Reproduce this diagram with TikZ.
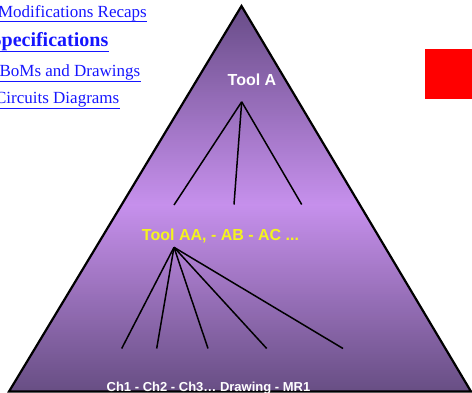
\documentclass[tikz,border=0pt]{standalone}
\usepackage{fontspec}
\setmainfont{Liberation Serif}
\newfontfamily\labelfont{Liberation Sans}
\usetikzlibrary{calc}

\definecolor{linkblue}{RGB}{22,22,255}
\definecolor{pyrtop}{HTML}{684C88}
\definecolor{pyrmid}{HTML}{C690EC}
\definecolor{pyrbot}{HTML}{664D82}
\definecolor{tagyellow}{HTML}{F4F41E}

\begin{document}
\begin{tikzpicture}[x=1pt, y=-1pt,
  menu/.style={text=linkblue, inner sep=0pt, anchor=base east,
    font=\fontsize{17}{20}\selectfont},
  menubold/.style={menu, font=\bfseries\fontsize{20}{24}\selectfont},
  uline/.style={draw=linkblue, line width=1pt},
  tag/.style={inner sep=0pt, anchor=base,
    font=\labelfont\bfseries\fontsize{16}{19}\selectfont},
  branch/.style={draw=black, line width=1.5pt},
  outline/.style={draw=black, line width=2.2pt, line join=miter}]

\useasboundingbox (0,0) rectangle (472,392);
\clip (0,0) rectangle (472,392);

% pyramid body: vertical gradient, light band near the middle
\begin{scope}
  \clip (241.5,6) -- (471,391.5) -- (9,391.5) -- cycle;
  \foreach \i in {0,...,99} {
    \pgfmathsetmacro\p{100*\i/99}
    \fill[pyrmid!\p!pyrtop] (0,{6+2*\i}) rectangle (472,{8.3+2*\i});
  }
  \foreach \i in {0,...,95} {
    \pgfmathsetmacro\p{100*\i/95}
    \fill[pyrbot!\p!pyrmid] (0,{204+2*\i}) rectangle (472,{206.3+2*\i});
  }
\end{scope}
\path[outline] (241.5,6) -- (471,391.5) -- (9,391.5) -- cycle;

% red marker
\fill[red] (425,48.5) rectangle (480,98.5);

% link list, upper left
\node[menu] (m1) at (147,17.3) {Modifications Recaps};
\node[menubold] (m2) at (108.5,46) {Specifications};
\node[menu] (m3) at (140.5,76) {BoMs and Drawings};
\node[menu] (m4) at (119.5,103.3) {Circuits Diagrams};
\foreach \m/\d in {m1/4.4, m2/5.6, m3/5.6, m4/5} {
  \draw[uline] ($(\m.base west)+(0,\d)$) -- ($(\m.base east)+(0,\d)$);
}

% tool labels
\node[tag, text=white] (ta) at (252,85) {Tool A};
\node[tag, text=tagyellow] (taa) at (220.5,240.7) {Tool AA, - AB - AC ...};
\node[tag, text=white, font=\labelfont\bfseries\fontsize{13}{16}\selectfont]
  (ch) at (208.5,391.5) {Ch1 - Ch2 - Ch3… Drawing - MR1};

% branch points
\coordinate (a0) at (241.7,101.8);
\coordinate (a1) at (174,205);
\coordinate (a2) at (234,204.5);
\coordinate (a3) at (301.7,204.5);

\coordinate (b0) at (174,247.3);
\coordinate (b1) at (121.7,348.5);
\coordinate (b2) at (156.7,348.5);
\coordinate (b3) at (208,348.5);
\coordinate (b4) at (266.7,348.5);
\coordinate (b5) at (343,348.5);

\foreach \e in {a1,a2,a3} \draw[branch] (a0) -- (\e);
\foreach \e in {b1,b2,b3,b4,b5} \draw[branch] (b0) -- (\e);

\end{tikzpicture}
\end{document}
